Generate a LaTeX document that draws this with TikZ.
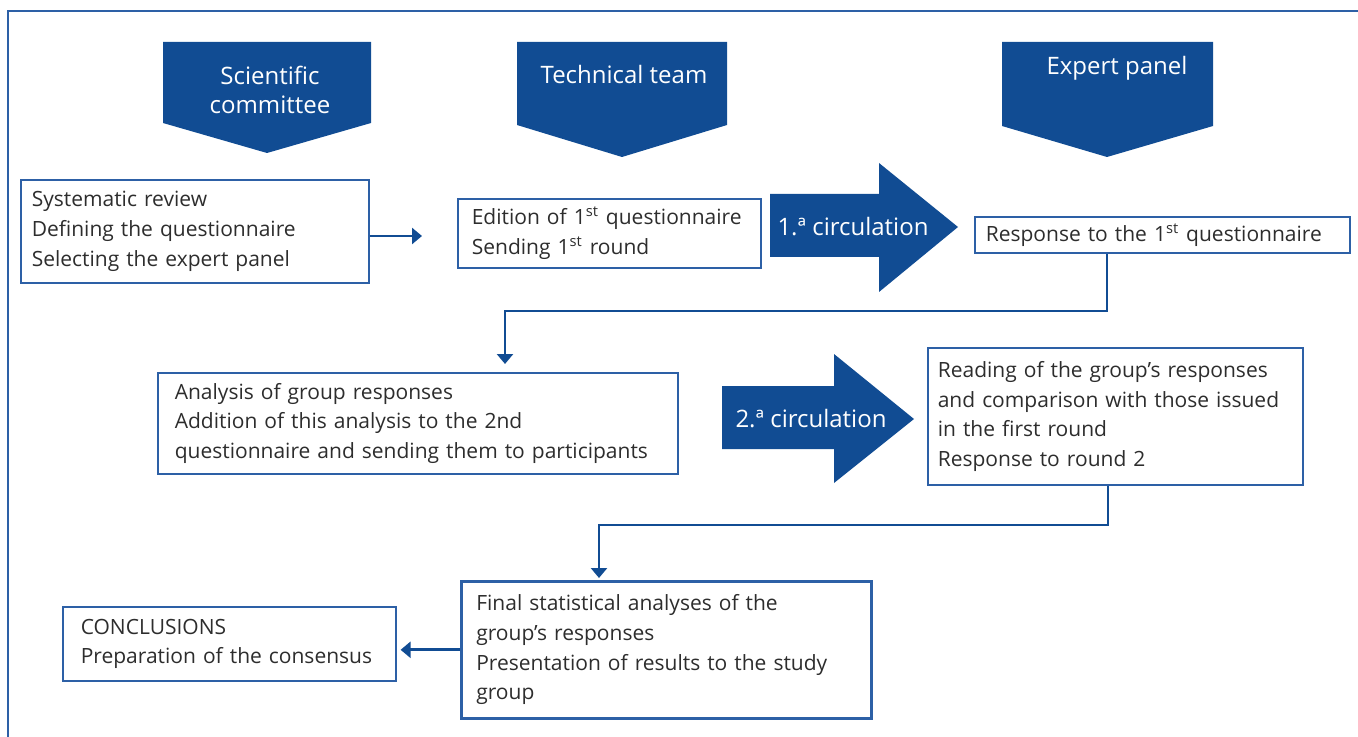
\documentclass[tikz,border=0pt]{standalone}
\usepackage{fontspec}
\setmainfont{Open Sans}
\usetikzlibrary{positioning}
\usetikzlibrary{arrows.meta}
\definecolor{panelblue}{RGB}{17,76,147}
\definecolor{edgeblue}{RGB}{45,96,166}
\definecolor{inkgray}{RGB}{45,45,45}
\hyphenpenalty=10000

\tikzset{
  box/.style={draw=edgeblue, line width=0.8pt, text=inkgray, align=left,
    anchor=north west, inner ysep=0pt,
    font=\fontsize{10.5}{14.8}\selectfont},
  banner/.style={fill=panelblue},
  bannertext/.style={text=white, align=center,
    font=\fontsize{12}{14.5}\selectfont},
  flow/.style={draw=panelblue, line width=1.4pt,
    -{Triangle[length=5pt,width=8pt]}}
}

\begin{document}
\begin{tikzpicture}[x=0.5pt,y=-0.5pt]
  \useasboundingbox (0,0) rectangle (1358,737);
  % frame
  \draw[edgeblue, line width=1pt] (1358,11) -- (8,11) -- (8,737);

  % column banners
  \fill[banner] (163,42) -- (371,42) -- (371,123) -- (267,153) -- (163,123) -- cycle;
  \fill[banner] (517,42) -- (727,42) -- (727,125) -- (622,157) -- (517,125) -- cycle;
  \fill[banner] (1002,42) -- (1213,42) -- (1213,126) -- (1107,157) -- (1002,126) -- cycle;
  \node[bannertext] (sci) at (270,90) {Scientific\\committee};
  \node[bannertext] (tec) at (624,75) {Technical team};
  \node[bannertext] (exp) at (1117,68) {Expert panel};

  % circulation arrows
  \fill[banner] (770,194) -- (879,194) -- (879,163) -- (958,227)
                -- (879,292) -- (879,257) -- (770,257) -- cycle;
  \fill[banner] (722,386) -- (834,386) -- (834,354) -- (914,419)
                -- (834,483) -- (834,449) -- (722,449) -- cycle;
  \node[bannertext] (circ1) at (853,227) {1.ª circulation};
  \node[bannertext] (circ2) at (811,419) {2.ª circulation};

  % steps
  \node[box, inner xsep=5.5pt, text width=163pt, minimum height=51.5pt]
       (b1) at (20,179) {Systematic review\\Defining the questionnaire\\Selecting the expert panel};
  \node[box, inner xsep=7pt, text width=137.5pt, minimum height=34.5pt]
       (b2) at (457,198) {Edition of 1\textsuperscript{st} questionnaire\\Sending 1\textsuperscript{st} round};
  \node[box, inner xsep=5.5pt, text width=176.5pt, minimum height=18pt]
       (b3) at (974,216) {Response to the 1\textsuperscript{st} questionnaire};
  \node[box, inner xsep=8.5pt, text width=243pt, minimum height=50.5pt]
       (b4) at (157,372) {Analysis of group responses\\Addition of this analysis to the 2nd\\questionnaire and sending them to participants};
  \node[box, inner xsep=5pt, text width=177.5pt, minimum height=68.5pt]
       (b5) at (927,347) {Reading of the group’s responses\\and comparison with those issued\\in the first round\\Response to round 2};
  \node[box, line width=1.3pt, inner xsep=7.5pt, text width=190pt, minimum height=68.5pt]
       (b6) at (460,580) {Final statistical analyses of the\\group’s responses\\Presentation of results to the study\\group};
  \node[box, inner xsep=9pt, text width=148.5pt, minimum height=37pt]
       (b7) at (62,606) {CONCLUSIONS\\Preparation of the consensus};

  % connectors
  \coordinate (e1) at (422,236);
  \coordinate (k1) at (1107,311);
  \coordinate (k2) at (505,311);
  \coordinate (k3) at (1108,525);
  \coordinate (k4) at (599,525);
  \draw[flow] (b1.east |- e1) -- (e1);
  \draw[flow, shorten >=4pt] (b3.south -| k1) -- (k1) -- (k2) -- (k2 |- b4.north);
  \draw[flow, shorten >=1pt] (b5.south -| k3) -- (k3) -- (k4) -- (k4 |- b6.north);
  \draw[flow, shorten >=2pt] (b6.west) -- (b6.west -| b7.east);
\end{tikzpicture}
\end{document}
